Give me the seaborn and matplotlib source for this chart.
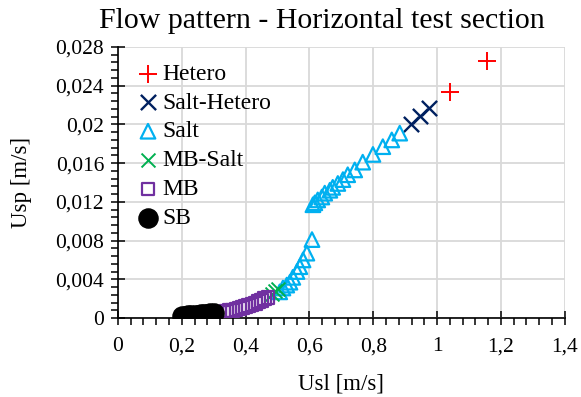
import matplotlib
matplotlib.use("Agg")
import matplotlib.pyplot as plt
import matplotlib.ticker as mticker
import seaborn as sns
import pandas as pd

# ---- data ----
hetero_x = [1.04, 1.155]
hetero_y = [0.0234, 0.0266]

salt_hetero_x = [0.918, 0.948, 0.976]
salt_hetero_y = [0.0200, 0.0209, 0.0217]

salt_x = [0.507, 0.517, 0.529, 0.539, 0.548, 0.561, 0.570, 0.580, 0.592, 0.608,
          0.611, 0.617, 0.626, 0.639, 0.648, 0.664, 0.673, 0.689, 0.705, 0.720,
          0.742, 0.767, 0.799, 0.830, 0.858, 0.883]
salt_y = [0.0027, 0.0031, 0.0034, 0.0037, 0.0042, 0.0048, 0.0053, 0.0060, 0.0067, 0.0081,
          0.0117, 0.0119, 0.0122, 0.0125, 0.0129, 0.0132, 0.0135, 0.0139, 0.0143, 0.0148,
          0.0153, 0.0161, 0.0169, 0.0177, 0.0184, 0.0191]

mb_salt_x = [0.482, 0.493, 0.503]
mb_salt_y = [0.0025, 0.0028, 0.0030]

mb_x = [0.31, 0.32, 0.33, 0.34, 0.35, 0.36, 0.37, 0.38, 0.39, 0.40,
        0.41, 0.42, 0.43, 0.44, 0.45, 0.46, 0.47]
mb_y = [0.0005, 0.0006, 0.0006, 0.0007, 0.0008, 0.0008, 0.0009, 0.0010, 0.0011, 0.0012,
        0.0013, 0.0014, 0.0015, 0.0017, 0.0018, 0.0020, 0.0021]

sb_x = [0.20, 0.21, 0.22, 0.23, 0.24, 0.25, 0.26, 0.27, 0.28, 0.29, 0.30]
sb_y = [0.0002, 0.0002, 0.0003, 0.0003, 0.0003, 0.0003, 0.0004, 0.0004, 0.0004, 0.0005, 0.0005]

x_ticks = [0, 0.2, 0.4, 0.6, 0.8, 1.0, 1.2, 1.4]
y_ticks = [0, 0.004, 0.008, 0.012, 0.016, 0.02, 0.024, 0.028]

title = "Flow pattern - Horizontal test section"
xlabel = "Usl [m/s]"
ylabel = "Usp [m/s]"

series = [
    ("Hetero", hetero_x, hetero_y, "+", "#FF0000", 160, False, 1.4),
    ("Salt-Hetero", salt_hetero_x, salt_hetero_y, "x", "#002060", 120, False, 1.7),
    ("Salt", salt_x, salt_y, "^", "#00B0F0", 110, True, 1.6),
    ("MB-Salt", mb_salt_x, mb_salt_y, "x", "#00B050", 100, False, 1.4),
    ("MB", mb_x, mb_y, "s", "#7030A0", 85, True, 1.6),
    ("SB", sb_x, sb_y, "o", "#000000", 190, False, 1.0),
]

sns.set_theme(style="white")
plt.rcParams["font.family"] = ["Liberation Serif", "DejaVu Serif"]

fig = plt.figure(figsize=(5.81, 3.97), dpi=100)
ax = fig.add_axes([0.203, 0.199, 0.769, 0.6826])

for name, xs, ys, mk, col, s, hollow, lw in series:
    df = pd.DataFrame({"x": xs, "y": ys})
    if hollow:
        sns.scatterplot(data=df, x="x", y="y", marker=mk, s=s, ax=ax, label=name,
                        facecolor="none", edgecolor=col, linewidth=lw, zorder=3)
    elif mk == "o":
        sns.scatterplot(data=df, x="x", y="y", marker=mk, s=s, ax=ax, label=name,
                        color=col, edgecolor=col, linewidth=lw, zorder=3)
    else:
        sns.scatterplot(data=df, x="x", y="y", marker=mk, s=s, ax=ax, label=name,
                        color=col, linewidth=lw, zorder=3)

ax.set_xlim(0, 1.4)
ax.set_ylim(0, 0.028)
ax.set_xticks(x_ticks)
ax.set_yticks(y_ticks)
ax.xaxis.set_minor_locator(mticker.AutoMinorLocator(5))
ax.yaxis.set_minor_locator(mticker.AutoMinorLocator(5))
fmt = mticker.FuncFormatter(lambda v, p: ("%g" % v).replace(".", ","))
ax.xaxis.set_major_formatter(fmt)
ax.yaxis.set_major_formatter(fmt)

ax.grid(True, which="major", color="#D9D9D9", linewidth=1.3, zorder=0)
ax.set_axisbelow(True)
for sp in ["top", "right"]:
    ax.spines[sp].set_visible(False)
for sp in ["left", "bottom"]:
    ax.spines[sp].set_color("black")
    ax.spines[sp].set_linewidth(1.2)

ax.tick_params(which="major", direction="inout", length=10, width=1.1, color="black",
               labelsize=15.5, labelcolor="black")
ax.tick_params(axis="x", which="major", pad=9)
ax.tick_params(axis="y", which="major", pad=5)
ax.tick_params(which="minor", direction="out", length=5, width=1.1, color="black")
ax.tick_params(axis="x", which="both", bottom=True)
ax.tick_params(axis="y", which="both", left=True)

ax.set_title(title, fontsize=21.5, color="black", pad=14, x=0.456)
ax.set_xlabel(xlabel, fontsize=16.5, color="black", labelpad=12)
ax.set_ylabel(ylabel, fontsize=16.5, color="black", labelpad=17)

leg = ax.legend(loc="upper left", bbox_to_anchor=(0.025, 0.975), frameon=False,
                fontsize=17, handlelength=0.8, handletextpad=0.2, labelspacing=0.31,
                borderaxespad=0.0)
for t in leg.get_texts():
    t.set_color("black")

fig.savefig("out.png", dpi=100)
